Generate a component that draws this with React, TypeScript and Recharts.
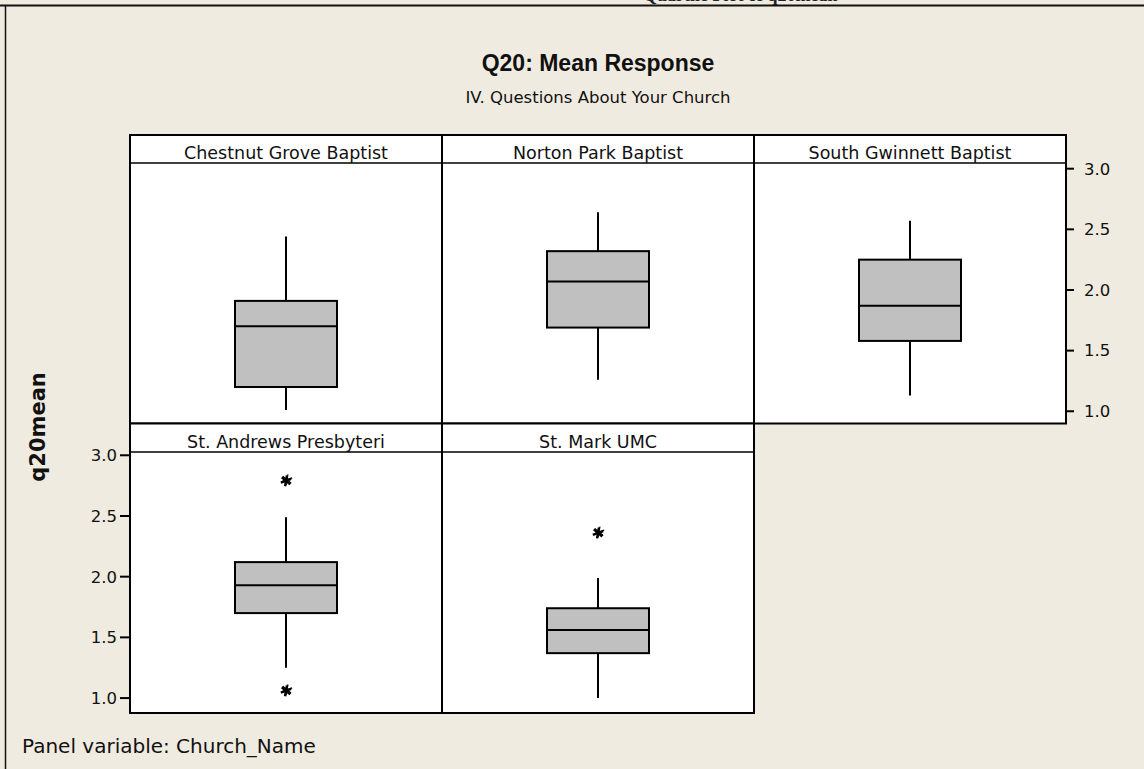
import React from 'react';
import { ComposedChart, Bar, Scatter, XAxis, YAxis } from 'recharts';

// panel variable: Church_Name
const churches = [
  'Chestnut Grove Baptist',
  'Norton Park Baptist',
  'South Gwinnett Baptist',
  'St. Andrews Presbyteri',
  'St. Mark UMC',
];
const whiskerLow = [1.01, 1.26, 1.13, 1.25, 1.0];
const q1 = [1.2, 1.69, 1.58, 1.7, 1.37];
const medians = [1.7, 2.07, 1.87, 1.93, 1.56];
const q3 = [1.91, 2.32, 2.25, 2.12, 1.74];
const whiskerHigh = [2.44, 2.64, 2.57, 2.49, 1.99];
const outliers: number[][] = [[], [], [], [2.79, 1.06], [2.36]];
const yTicks = [1.0, 1.5, 2.0, 2.5, 3.0];

const FONT = '"DejaVu Sans", Verdana, sans-serif';
const BG = '#F0EBE0';

const rows = churches.map((name, i) => {
  const row: any = {
    name,
    range: [whiskerLow[i], whiskerHigh[i]],
    low: whiskerLow[i],
    q1: q1[i],
    median: medians[i],
    q3: q3[i],
    high: whiskerHigh[i],
  };
  outliers[i].forEach((v, k) => {
    row['out' + k] = v;
  });
  return row;
});

const BoxShape = (props: any) => {
  const { x, y, width, height, payload } = props;
  if (payload == null || !isFinite(y) || !isFinite(height)) return null;
  const top = height >= 0 ? y : y + height;
  const h = Math.abs(height);
  const { low, high } = payload;
  const py = (v: number) => top + (h * (high - v)) / (high - low);
  const cx = x + width / 2;
  return (
    <g>
      <line x1={cx} x2={cx} y1={py(high)} y2={py(low)} stroke="#000" strokeWidth={2} />
      <rect
        x={x}
        y={py(payload.q3)}
        width={width}
        height={py(payload.q1) - py(payload.q3)}
        fill="#C0C0C0"
        stroke="#000"
        strokeWidth={2}
      />
      <line x1={x} x2={x + width} y1={py(payload.median)} y2={py(payload.median)} stroke="#000" strokeWidth={2} />
    </g>
  );
};

const Asterisk = (props: any) => {
  const { cx, cy } = props;
  if (!isFinite(cx) || !isFinite(cy)) return null;
  const r = 5.5;
  const arms = [100, 40, 160].map((a) => {
    const t = (a * Math.PI) / 180;
    return { dx: r * Math.cos(t), dy: r * Math.sin(t) };
  });
  return (
    <g stroke="#000" strokeWidth={2.4}>
      {arms.map((d, k) => (
        <line key={k} x1={cx - d.dx} y1={cy - d.dy} x2={cx + d.dx} y2={cy + d.dy} />
      ))}
      {arms.map((d, k) => (
        <line key={'b' + k} x1={cx + 1 - d.dx} y1={cy - 1 - d.dy} x2={cx + 1 + d.dx} y2={cy - 1 + d.dy} strokeWidth={1.2} />
      ))}
    </g>
  );
};

// panel geometry
const colX = [130, 442, 754];
const panelW = 312;
const topRow = { strip: 135, plot: 163, bottom: 423.5, domain: [0.899, 3.047] };
const botRow = { strip: 423.5, plot: 452, bottom: 713, domain: [0.877, 3.027] };

const panelPos = [
  { col: 0, row: topRow, axis: null },
  { col: 1, row: topRow, axis: null },
  { col: 2, row: topRow, axis: 'right' },
  { col: 0, row: botRow, axis: 'left' },
  { col: 1, row: botRow, axis: null },
];

const AXIS_W = 62;
const PAD = 12;

const Panel = ({ index }: { index: number }) => {
  const p = panelPos[index];
  const row = rows[index];
  const plotH = p.row.bottom - p.row.plot;
  const left = colX[p.col] - (p.axis === 'left' ? AXIS_W : 0);
  const width = panelW + (p.axis ? AXIS_W : 0);
  return (
    <div style={{ position: 'absolute', left, top: p.row.plot - PAD, width, height: plotH + 2 * PAD }}>
      <ComposedChart
        width={width}
        height={plotH + 2 * PAD}
        data={[row]}
        margin={{ top: PAD, right: 0, bottom: PAD, left: 0 }}
      >
        <XAxis dataKey="name" type="category" hide allowDuplicatedCategory={false} />
        <YAxis
          type="number"
          domain={p.row.domain}
          allowDataOverflow
          ticks={yTicks}
          interval={0}
          hide={!p.axis}
          orientation={p.axis === 'right' ? 'right' : 'left'}
          width={AXIS_W}
          axisLine={false}
          tickSize={p.axis === 'right' ? 8 : 10}
          tickMargin={p.axis === 'right' ? 10 : 3}
          tickLine={{ stroke: '#000', strokeWidth: 2 }}
          tickFormatter={(v: number) => v.toFixed(1)}
          tick={{ fontSize: 16.5, fill: '#111', fontFamily: FONT }}
        />
        <Bar dataKey="range" barSize={102} shape={<BoxShape />} isAnimationActive={false} />
        {outliers[index].map((_, k) => (
          <Scatter key={k} dataKey={'out' + k} shape={<Asterisk />} isAnimationActive={false} />
        ))}
      </ComposedChart>
    </div>
  );
};

const Frame = () => (
  <svg width={1144} height={769} style={{ position: 'absolute', left: 0, top: 0 }}>
    <rect x={0} y={0} width={1144} height={769} fill={BG} />
    <text x={643} y={1} fontFamily="Times New Roman, serif" fontWeight="bold" fontSize={18} fill="#222">
      Quartile Plot of q20mean
    </text>
    <line x1={0} x2={1144} y1={5.5} y2={5.5} stroke="#111" strokeWidth={2} />
    <line x1={5.5} x2={5.5} y1={5.5} y2={769} stroke="#111" strokeWidth={1.5} />
    {panelPos.map((p, i) => {
      const x0 = colX[p.col];
      const x1 = x0 + panelW;
      const r = p.row;
      return (
        <g key={i}>
          <rect x={x0} y={r.strip} width={panelW} height={r.bottom - r.strip} fill="#fff" />
          <rect
            x={x0}
            y={r.strip}
            width={panelW}
            height={r.bottom - r.strip}
            fill="none"
            stroke="#000"
            strokeWidth={2}
          />
          <line x1={x0} x2={x1} y1={r.plot} y2={r.plot} stroke="#000" strokeWidth={1.5} />
          <text
            x={(x0 + x1) / 2}
            y={r.plot - 4}
            textAnchor="middle"
            fontFamily={FONT}
            fontSize={17.5}
            fill="#111"
          >
            {churches[i]}
          </text>
        </g>
      );
    })}
    <text
      x={598}
      y={71}
      textAnchor="middle"
      fontFamily='"Liberation Sans", Arial, sans-serif'
      fontWeight="bold"
      fontSize={23}
      fill="#111"
    >
      Q20: Mean Response
    </text>
    <text x={598} y={103} textAnchor="middle" fontFamily={FONT} fontSize={16.5} fill="#111">
      IV. Questions About Your Church
    </text>
    <text
      x={38}
      y={427}
      transform="rotate(-90 38 427)"
      textAnchor="middle"
      dominantBaseline="central"
      fontFamily={FONT}
      fontWeight="bold"
      fontSize={21}
      fill="#111"
    >
      q20mean
    </text>
    <text x={22} y={753} fontFamily={FONT} fontSize={20} fill="#111">
      Panel variable: Church_Name
    </text>
  </svg>
);

export default function App() {
  return (
    <div style={{ position: 'absolute', left: 0, top: 0, width: 1144, height: 769, overflow: 'hidden', background: BG }}>
      <Frame />
      {churches.map((_, i) => (
        <Panel key={i} index={i} />
      ))}
    </div>
  );
}
